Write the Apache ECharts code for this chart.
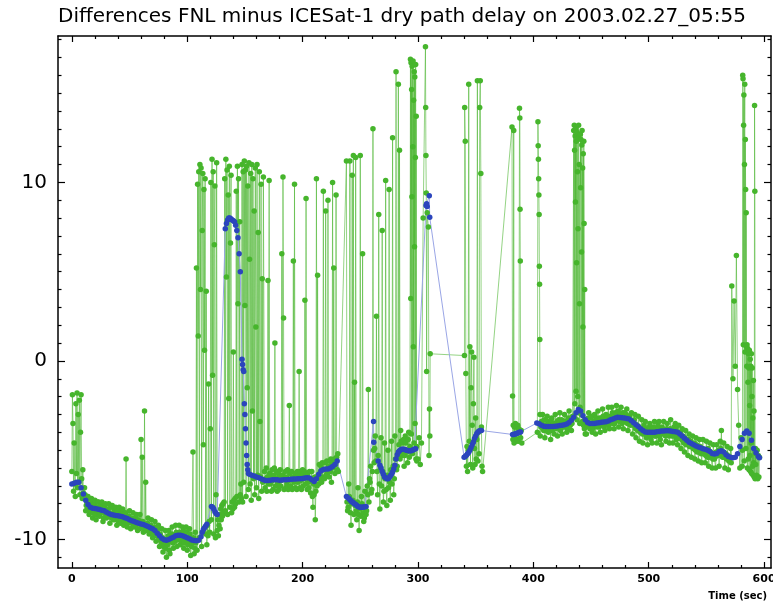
<!DOCTYPE html>
<html>
<head>
<meta charset="utf-8">
<script src="https://cdn.jsdelivr.net/npm/echarts@6/dist/echarts.min.js"></script>
<style>
  html, body { margin: 0; padding: 0; background: #fff; }
  #chart { width: 773px; height: 604px; }
</style>
</head>
<body>
<div id="chart"></div>
<script>
// tick values
const xMajorTicks = [0, 100, 200, 300, 400, 500, 600];
const xMinorTicks = [20, 40, 60, 80, 120, 140, 160, 180, 220, 240, 260, 280, 320, 340, 360, 380,
  420, 440, 460, 480, 520, 540, 560, 580];
const yMajorTicks = [-10, 0, 10];
const yMinorTicks = [-11, -9, -8, -7, -6, -5, -4, -3, -2, -1, 1, 2, 3, 4, 5, 6, 7, 8, 9,
  11, 12, 13, 14, 15, 16, 17, 18];

// green samples (FNL - ICESat), runs of [start, step] + values
const green00 = [-6.2, -1.9, -3.5, -7.3, -4.6, -6.9, -7.6, -2.4, -6.3, -1.8, -7.1, -3.0, -6.8, -2.2, -7.5, -4.0, -1.9, -6.6, -7.7, -6.1, -7.4];
const green01 = [-7.1, -8.4, -7.9, -7.6, -8.6, -8.0, -7.7, -8.8, -8.2, -7.8,
  -8.9, -8.4, -7.9, -8.7, -8.1, -7.9, -9.0, -8.5, -8.0, -8.8,
  -8.3, -8.0, -9.1, -8.6, -8.1, -8.9, -8.4, -8.2, -9.2, -8.7,
  -8.2, -9.1, -8.6, -8.3, -9.2, -8.8, -5.5, -9.3, -8.7, -8.4,
  -9.4, -8.9, -8.5, -9.3, -8.8, -8.6, -9.5, -9.0, -8.6, -4.4,
  -5.4, -9.6, -2.8, -6.8, -9.2, -8.8, -9.7, -9.3, -8.9, -9.9,
  -9.4, -9.0, -10.1, -9.6, -9.2, -10.4, -9.8, -9.4, -10.7, -10.1,
  -9.5, -11.0, -10.3, -9.5, -10.8, -10.0, -9.3, -10.5, -9.8, -9.2,
  -10.4, -9.7, -9.2, -10.3, -9.8, -9.3, -10.5, -9.8, -9.3, -10.6,
  -10.0, -9.4, -10.9, -10.2, -5.1, -10.8, -9.6];
const green01b = [-7.5, -8.1, -8.3, -7.7, -8.4, -8.2, -7.8, -8.5, -8.0, -8.6,
  -8.2, -7.9, -8.6, -8.5, -8.0, -8.4, -8.8, -8.2, -8.6, -8.4,
  -8.7, -8.5, -8.2, -8.8, -8.6, -8.3, -8.9, -8.5, -8.4, -9.0,
  -8.6, -8.9, -8.4, -8.7, -9.0, -8.5, -8.8, -9.1, -8.7, -9.0,
  -8.8, -9.1, -9.2, -8.8, -9.2, -9.0, -8.9, -9.4, -9.1, -9.3,
  -9.0, -9.4, -9.2, -9.5, -9.1, -9.3, -9.6, -9.2, -9.5, -9.7,
  -9.3, -9.6, -9.8, -9.4, -10.0, -9.7, -10.2, -9.9, -10.4, -10.0,
  -10.5, -10.2, -9.8, -10.6, -10.1, -9.7, -10.2, -9.9, -10.1, -9.6,
  -10.0, -9.9, -9.6, -10.1, -9.9, -9.5, -10.2, -10.0, -9.6, -10.3,
  -10.1, -9.7, -10.4, -10.2, -9.9, -10.5];
const green02 = [-10.2, 5.2, -10.6, 9.9, 1.4, 10.6, -9.9, 11.0, 4.0, 10.8, -10.4, 7.3, 10.5, -4.7, 9.6, 0.6, 10.2, -9.7, 3.9, -10.3,
  -9.2, -9.8, -1.3, -9.0, -9.6, -3.8, 10.0, -8.9, 11.3, -0.8, 10.6, -9.7, 6.5, 9.8, -9.9, -7.5, 11.1, -9.5, -8.9, -9.8];
const green03 = [-9.2, -8.6, -9.4, -8.3, -8.9, -8.1, -8.7, -8.0, -8.5, -7.9, 10.2, -8.4, 11.3, 4.7, 10.7, -8.6, 9.3, -2.1, 10.9, -8.2,
  6.6, 10.4, -8.5, -7.9, -8.3, 0.5, -7.8, -8.2, -7.7, -8.0, 9.5, -7.6, 10.9, 3.2, 10.2, -7.9, 7.8, -7.5, -6.9, -7.7];
const green04 = [11.0, -7.9, 10.6, -6.8, 11.2, 3.1, 10.7, -7.6, 10.9, -1.5, 9.8, -7.2, 11.1, 5.7, -6.9, 10.5, -7.8, 11.0, -2.8, 10.2,
  -6.6, 8.4, -7.5, 10.8, 1.9, -7.1, 11.0, -6.4, 7.2, -7.7, 10.6, -3.4, -6.5, 9.9, -7.3, 4.6, -6.8, 10.3];
const green05 = [-6.2, -7.1, -6.6, -6.0, -7.3, -6.5, 4.5, -6.9, 10.1, -6.3,
  -6.9, -6.4, -7.3, -6.1, -6.7, -7.2, -6.4, -6.0, 1.0, -7.0,
  -6.6, -6.2, -7.3, -6.8, -6.3, -7.2, -6.5, -6.1, -7.0, -6.7,
  6.0, -6.4, 10.3, 2.4, -7.2, -6.6, -6.2, -7.1, -6.5, -6.9,
  -6.1, -7.2, -6.7, -2.5, -6.3, -7.0, -6.6, -6.2, -7.2, -6.5,
  5.6, -6.8, 9.9, -7.1, -6.3, -6.7, -7.2, -6.2, -6.8, -6.4,
  -0.6, -7.1, -6.2, -6.7, -7.2, -6.4, -6.1, -7.0, -6.6, -6.2,
  3.4, -6.9, 9.1, -6.4, -7.2, -6.3, -6.8, -7.1, -6.2, -6.7,
  -7.4, -6.6, -6.2, -7.6, -8.2, -6.9, -7.5, -6.5, -8.9, -7.3,
  10.2, -7.0, 4.8, -6.4, -6.9, -5.8, -6.6, -6.2, -5.9, -6.8,
  -5.7, -6.5, 9.5, -6.1, -6.6, -5.7, 8.4, -6.4, -5.6, -6.3,
  9.0, -5.9, -6.5, -5.6, -6.2, -5.5, -6.8, -5.7, 10.0, -6.0,
  5.2, -5.5, -6.3, -5.8, 9.3, -5.4, -6.1, -5.2, -6.2];
const green06 = [11.2, -8.4, -6.9, 11.2, -9.2, 10.4, 11.5, -1.2, 11.4, -8.9, -7.1, -9.5, 11.5, -7.6, 6.0, -9.0, -7.3, -8.6, -7.0, -1.6,
  -6.6, -5.9, -7.2, 13.0, -5.7, -4.2, 2.5, -7.5, 8.2, -8.3, -4.3, 7.3, -7.9, -4.6, 10.1, -8.1, -5.0, 9.6, -7.8, -4.5,
  12.5, -7.5, -4.2, 16.2, -5.9, 15.5, 11.8, -3.9, -5.3, -4.6, -5.9, -4.2, -5.0, -5.7, -4.0, -4.8];
const green06b = [-7.9, -8.2, -7.6, -8.5, -8.0, -7.8, -8.6, -8.1, -8.4, -7.9,
  -8.6, -8.3, -8.7, -8.0, -8.5, -8.8, -8.2, -8.4, -7.5, -7.9,
  -6.8, -7.4, -6.2, -5.0, -4.9, -5.6, -6.2, -5.3, -6.9, -6.0,
  -7.0, -6.2, -7.3, -6.6, -7.2, -6.4, -7.1, -6.8, -6.1, -6.9,
  -5.9, -6.6, -5.5, -6.1, -5.3, -4.7, -5.5, -4.5, -5.2, -4.4,
  -5.3, -4.6, -5.1, -4.4, -5.4];
const green07 = [16.9, 3.5, 16.7, -4.1, 15.2, 9.2, 16.5, -5.2, 12.0, 16.8, 0.8, 14.6, -4.6, 16.2, 6.4, 15.9, -3.5, 11.4, 16.6, -5.5,
  13.7, -4.8, -5.6];
const greenPairsA = [[300, -5.5], [301, -4.3], [302, -5.8], [303, -4.6], [304.5, 8.0], [306.5, 17.6], [306.7, 14.2], [306.9, 11.5],
  [307.2, 9.4], [307.5, -0.6], [308, 8.3], [309, 7.5], [309.6, -5.3], [310, -2.7], [310.3, -4.2], [310.6, 0.4], [340.3, 0.3]];
const green09 = [14.2, 12.3, -0.7, -5.9, -4.8, -6.2, -5.0, 15.5, -4.5, 0.8, -5.8, -1.5, 0.5, -3.6, -6.0, -2.4, 0.2, -4.9, -5.8, -3.2,
  -5.5, -4.4, 15.7, -5.6, -4.0, -5.2, 14.2, 15.7, 10.5, -3.7, -5.9, -6.2];
const greenPairsB = [[381.5, 13.1], [382, -1.96], [382.3, -4.4], [382.6, -3.6], [383, 12.9], [383.3, -4.6], [383.6, -3.7], [384, -4.3],
  [384.5, -3.5], [385, -4.5], [385.5, -3.7], [386, -4.4], [386.5, -3.6], [387, -4.5], [387.5, -3.8], [388, 14.15], [388.3, 13.6],
  [388.5, 8.5], [388.7, 5.6], [389, -4.3], [389.5, -3.9], [390, -4.6], [403.5, -4.0], [404, 13.4], [404.2, 12.05], [404.4, 11.3],
  [404.6, 10.2], [404.8, 9.3], [405, 8.2], [405.2, 5.3], [405.4, 4.3], [405.6, 1.2], [405.8, -3.0]];
const green11 = [-4.2, -3.4, -3.0, -3.9, -4.3, -3.6, -3.1, -4.0, -3.5, -4.4, -3.2, -3.7, -4.1, -3.0, -3.5, -4.2, -3.3, -2.9, -3.8, -4.1,
  -3.4, -3.0, -3.7, -4.0, -3.2, -2.8, -3.6, -3.9, -3.1];
const green11b = [-3.7, -3.5, -3.8, -3.3, -3.9, -3.6, -3.4, -3.8, -3.7, -3.3, -3.9, -3.5, -3.6, -3.8, -3.4, -3.7, -3.5, -3.9, -3.3, -3.6,
  -3.7, -3.4, -3.5, -3.8, -3.3, -3.4, -3.2, -3.5];
const green12 = [12.9, -3.1, 13.2, 11.8, -2.4, 12.6, 8.9, 13.0, -1.7, 12.3, 5.5, -3.3, 12.8, 10.6, -2.0, 7.4, 12.5, 13.2, -2.9, 11.0,
  3.2, -3.5, -2.6, 12.7, 9.7, 12.4, -3.0, 6.1, 12.1, 12.9, -3.4, 10.8, 1.9, 11.6, -3.6, 12.3, 7.7, -3.8, 4.0, -3.4, -4.1];
const green13 = [-4.1, -3.4, -2.9, -3.8, -3.2, -4.0, -3.5, -3.0, -4.1, -3.3,
  -2.8, -3.7, -4.0, -3.2, -2.7, -3.6, -3.9, -3.0, -3.4, -2.6,
  -3.8, -3.2, -2.6, -3.5, -3.8, -2.9, -2.5, -3.3, -3.7, -3.0,
  -2.6, -3.5, -3.8, -2.9, -3.3, -2.7, -3.9, -3.1, -3.6, -2.9,
  -4.1, -3.4, -3.0, -4.3, -3.6, -3.1, -4.5, -3.8, -3.3, -4.6,
  -3.6, -3.4, -4.3, -4.7, -3.8, -3.5, -4.4, -4.6, -3.7, -3.4,
  -4.2, -4.6, -3.6, -3.4, -4.4, -4.7, -3.8, -3.4, -4.1, -4.5,
  -3.5, -3.9, -4.6, -3.3, -4.2, -4.6, -3.7, -3.5, -4.4, -4.7,
  -3.6, -4.2, -4.9, -3.8, -4.5, -5.1, -3.9, -4.6, -5.3, -4.1,
  -4.8, -5.4, -4.2, -4.9, -5.5, -4.3, -5.1, -5.6, -4.4, -5.0,
  -5.7, -4.4, -5.2, -5.7, -4.5, -5.4, -5.9, -4.6, -5.3, -6.0,
  -4.7, -5.5, -6.0, -4.7, -5.3, -5.9, -4.5, -3.9, -5.4, -4.6,
  -6.0, -5.2, -4.8, -6.1, -5.5, -4.9, 4.2, -1.0, 3.35, -0.3, 5.9, -1.6, -3.6, -6.0, -4.3];
const green13b = [-3.6, -3.2, -3.7, -3.5, -3.1, -3.8, -3.4, -3.6, -3.2, -3.7,
  -3.5, -3.2, -3.6, -3.4, -3.1, -3.7, -3.3, -3.5, -3.1, -3.6,
  -3.1, -3.4, -2.9, -3.2, -3.5, -3.0, -3.3, -2.8, -3.4, -3.1,
  -3.3, -2.9, -3.4, -3.2, -3.0, -3.5, -3.3, -3.1, -3.5, -3.4,
  -3.6, -3.3, -3.8, -3.6, -3.9, -3.7, -4.0, -3.8, -4.1, -3.9,
  -4.1, -3.8, -4.2, -4.0, -3.7, -4.2, -3.9, -4.1, -3.8, -4.2,
  -3.9, -4.1, -3.8, -4.2, -4.0, -3.7, -4.1, -3.9, -4.2, -3.8,
  -4.0, -4.2, -3.8, -4.1, -3.9, -4.2, -4.0, -3.8, -4.2, -4.1,
  -4.3, -4.0, -4.4, -4.2, -4.6, -4.3, -4.7, -4.5, -4.4, -4.8,
  -4.5, -4.7, -4.9, -4.6, -5.0, -4.7, -4.9, -5.1, -4.8, -5.2,
  -4.9, -5.2, -5.0, -5.3, -5.1, -4.9, -5.4, -5.1, -5.3, -5.5,
  -5.2, -5.4, -5.1, -5.3, -5.0, -5.2, -4.9, -5.3, -5.1, -5.4,
  -5.2, -5.5, -5.3, -5.6, -5.4, -5.7];
const green14 = [-5.9, -5.0, 16.0, 15.8, 0.9, 13.2, 14.9, -5.6, 11.0, 15.5, 0.5, 12.4, 9.6, -4.9, 8.3, 0.8, -0.3, 0.9, -6.0, 0.7,
  -1.2, -5.5, 0.4, -0.4, -6.1, 0.6, -2.5, -5.3, 0.1, -6.2, -0.3, -4.6, 0.4, -6.3, -2.0, -0.4, -5.9, -3.2, -6.4, -1.1,
  -5.7, -2.8, -6.5, 14.3, 9.5, -6.6, -4.9, -5.8];
const green15 = [-5.2, -6.4, -5.0, -6.6, -5.3, -6.5, -5.4];

// blue samples (smoothed)
const blue01 = [-6.9, -6.85, -6.8, -6.8, -7.1, -7.45, -7.8, -8.05, -8.2, -8.25,
  -8.27, -8.3, -8.33, -8.36, -8.4, -8.48, -8.55, -8.6, -8.63, -8.66,
  -8.68, -8.7, -8.73, -8.78, -8.83, -8.9, -8.95, -9.0, -9.05, -9.1,
  -9.13, -9.17, -9.22, -9.28, -9.34, -9.4, -9.5, -9.65, -9.8, -9.93,
  -10.02, -10.05, -10.0, -9.93, -9.88, -9.8, -9.77, -9.77, -9.8, -9.85,
  -9.9, -9.96, -10.03, -10.06, -10.07, -10.05, -9.85];
const blue02 = [-9.6, -9.45, -9.35, -9.25, -9.15];
const blue03 = [-8.15, -8.2, -8.3, -8.45, -8.55, -8.6];
const blue04 = [7.4, 7.7, 7.9, 8.0, 8.0, 7.95, 7.9, 7.85, 7.8, 7.6, 7.3, 6.9, 6.0, 5.0];
const blue05 = [0.1, -0.2, -0.5, -0.6, -2.4, -3.0, -3.8, -4.6, -5.3, -5.8, -6.1, -6.3];
const blue06 = [-6.35, -6.4, -6.45, -6.5, -6.55, -6.6, -6.65, -6.7, -6.7, -6.68,
  -6.66, -6.65, -6.66, -6.68, -6.67, -6.65, -6.65, -6.64, -6.63, -6.62,
  -6.62, -6.6, -6.6, -6.58, -6.56, -6.55, -6.56, -6.65, -6.75, -6.6,
  -6.35, -6.15, -6.08, -6.05, -6.05, -6.0, -5.92, -5.8, -5.6];
const blue07 = [-7.6, -7.65, -7.7, -7.78, -7.85, -7.9, -7.95, -8.0, -8.05, -8.1, -8.15, -8.18, -8.2, -8.2, -8.2, -8.18, -8.17, -8.15];
const bluePairsA = [[261.5, -3.4], [261.7, -4.55], [265.5, -5.6]];
const blue08 = [-5.85, -6.0, -6.2, -6.35, -6.5, -6.55, -6.6, -6.6, -6.55, -6.45, -6.35, -6.22, -6.05, -5.85, -5.5];
const blue09 = [-5.25, -5.1, -5.03, -4.98, -4.95, -4.95, -4.95, -4.97, -5.0, -5.02, -5.03, -5.03, -5.03, -5.0, -4.97, -4.94, -4.92];
const bluePairsB = [[307, 8.7], [307.5, 8.8], [308, 8.65], [309.8, 9.25], [310.2, 8.05]];
const blue10 = [-5.4, -5.35, -5.28, -5.2, -5.12, -5.0, -4.85, -4.7, -4.55, -4.35, -4.2, -4.07, -3.98, -3.93, -3.9, -3.9];
const blue11 = [-4.12, -4.12, -4.1, -4.08, -4.05, -4.02, -4.0, -3.98];
const blue12 = [-3.48, -3.52, -3.6, -3.66, -3.68, -3.68, -3.68, -3.67, -3.66, -3.64,
  -3.62, -3.6, -3.57, -3.53, -3.45, -3.33, -3.15, -2.9, -2.72, -2.8,
  -3.07, -3.3, -3.45, -3.5, -3.5, -3.5, -3.48, -3.46, -3.44, -3.42,
  -3.41, -3.37, -3.3, -3.25, -3.2, -3.15, -3.17, -3.18, -3.2, -3.22,
  -3.26, -3.35, -3.47, -3.58, -3.68, -3.8, -3.9, -3.98, -4.0, -4.0,
  -4.0, -3.99, -3.97, -3.95, -3.93, -3.92, -3.91, -3.91, -3.92, -3.95,
  -3.97, -4.0, -4.1, -4.2, -4.33, -4.45, -4.55, -4.63, -4.7, -4.76,
  -4.82, -4.87, -4.92, -4.95, -5.0, -5.08, -5.18, -5.22, -5.18, -5.08,
  -5.03, -5.1, -5.25, -5.35, -5.4, -5.42, -5.4, -5.2, -4.8, -4.4,
  -4.05, -3.92, -4.05, -4.45, -4.9, -5.15, -5.35];
const blueEnd = [[596, -5.42]];

function run(start, step, vals) {
  return vals.map(function (v, i) { return [start + i * step, v]; });
}

let greenData = [].concat(
  run(0, 0.5, green00), run(11, 1, green01), run(11.5, 1, green01b), run(107.5, 0.5, green02),
  run(127.5, 0.5, green03), run(147.5, 0.5, green04), run(167, 0.5, green05), run(238, 1, green06),
  run(238.5, 1, green06b), run(293.5, 0.25, green07), greenPairsA, run(340.5, 0.5, green09), greenPairsB,
  run(406, 1, green11), run(406.5, 1, green11b), run(435, 0.25, green12), run(446, 1, green13),
  run(446.5, 1, green13b), run(581, 0.25, green14), run(593, 0.5, green15)
).sort(function (a, b) { return a[0] - b[0]; });

let blueData = [].concat(
  run(0, 2, blue01), run(113, 1, blue02), run(121, 1, blue03), run(133, 1, blue04),
  run(147.5, 0.5, blue05), run(154, 2, blue06), run(238, 1, blue07), bluePairsA,
  run(267, 1, blue08), run(282, 1, blue09), bluePairsB, run(340, 1, blue10),
  run(382, 1, blue11), run(403, 2, blue12), blueEnd
);

const FONT = 'DejaVu Sans';
const X_MIN = -12, X_MAX = 606, Y_MIN = -11.6, Y_MAX = 18.2;

function xAxisDef(pos, ticks, len, showLine, labels) {
  return {
    type: 'value', position: pos, min: X_MIN, max: X_MAX,
    axisLine: { show: showLine, onZero: false, lineStyle: { color: '#000', width: 1.5 } },
    axisTick: { show: true, inside: true, length: len, customValues: ticks, lineStyle: { color: '#000', width: 1.2 } },
    axisLabel: labels ? { show: true, customValues: ticks, fontFamily: FONT, fontWeight: 'bold', fontSize: 11, color: '#000', margin: 6 } : { show: false },
    splitLine: { show: false }
  };
}
function yAxisDef(pos, ticks, len, showLine, labels) {
  let ax = {
    type: 'value', position: pos, min: Y_MIN, max: Y_MAX,
    axisLine: { show: showLine, onZero: false, lineStyle: { color: '#000', width: 1.5 } },
    axisTick: { show: true, inside: true, length: len, customValues: ticks, lineStyle: { color: '#000', width: 1.2 } },
    axisLabel: labels ? { show: true, customValues: ticks, fontFamily: FONT, fontSize: 20, color: '#000', margin: 11 } : { show: false },
    splitLine: { show: false }
  };
  if (labels) {
    ax.name = 'millimeters';
    ax.nameLocation = 'middle';
    ax.nameGap = 30;
    ax.nameTextStyle = { fontFamily: FONT, fontSize: 20, color: '#000' };
  }
  return ax;
}

let chart = echarts.init(document.getElementById('chart'), null, { renderer: 'canvas' });
chart.setOption({
  animation: false,
  backgroundColor: '#fff',
  title: [
    { text: 'Differences FNL minus ICESat-1 dry path delay on 2003.02.27_05:55', left: 53, top: 2,
      textStyle: { fontFamily: FONT, fontSize: 20, fontWeight: 'normal', color: '#000' } },
    { text: 'Time (sec)', right: 1, top: 586,
      textStyle: { fontFamily: FONT, fontSize: 10, fontWeight: 'bold', color: '#000' } }
  ],
  grid: { left: 58, right: 2, top: 36, bottom: 36, outerBoundsMode: 'none' },
  xAxis: [
    xAxisDef('bottom', xMajorTicks, 6, true, true),
    xAxisDef('bottom', xMinorTicks, 3, false, false),
    xAxisDef('top', xMajorTicks, 6, true, false),
    xAxisDef('top', xMinorTicks, 3, false, false)
  ],
  yAxis: [
    yAxisDef('left', yMajorTicks, 7, true, true),
    yAxisDef('left', yMinorTicks, 3.5, false, false),
    yAxisDef('right', yMajorTicks, 7, true, false),
    yAxisDef('right', yMinorTicks, 3.5, false, false)
  ],
  series: [
    {
      name: 'FNL - ICESat', type: 'line', data: greenData,
      symbol: 'circle', symbolSize: 5.5, showSymbol: true,
      itemStyle: { color: '#46b52c' },
      lineStyle: { color: 'rgba(76,182,50,0.6)', width: 1 },
      emphasis: { disabled: true }
    },
    {
      name: 'smoothed', type: 'line', data: blueData,
      symbol: 'circle', symbolSize: 5.5, showSymbol: true,
      itemStyle: { color: '#2b45bd' },
      lineStyle: { color: '#9aa6e6', width: 1 },
      emphasis: { disabled: true }
    }
  ]
});
</script>
</body>
</html>
